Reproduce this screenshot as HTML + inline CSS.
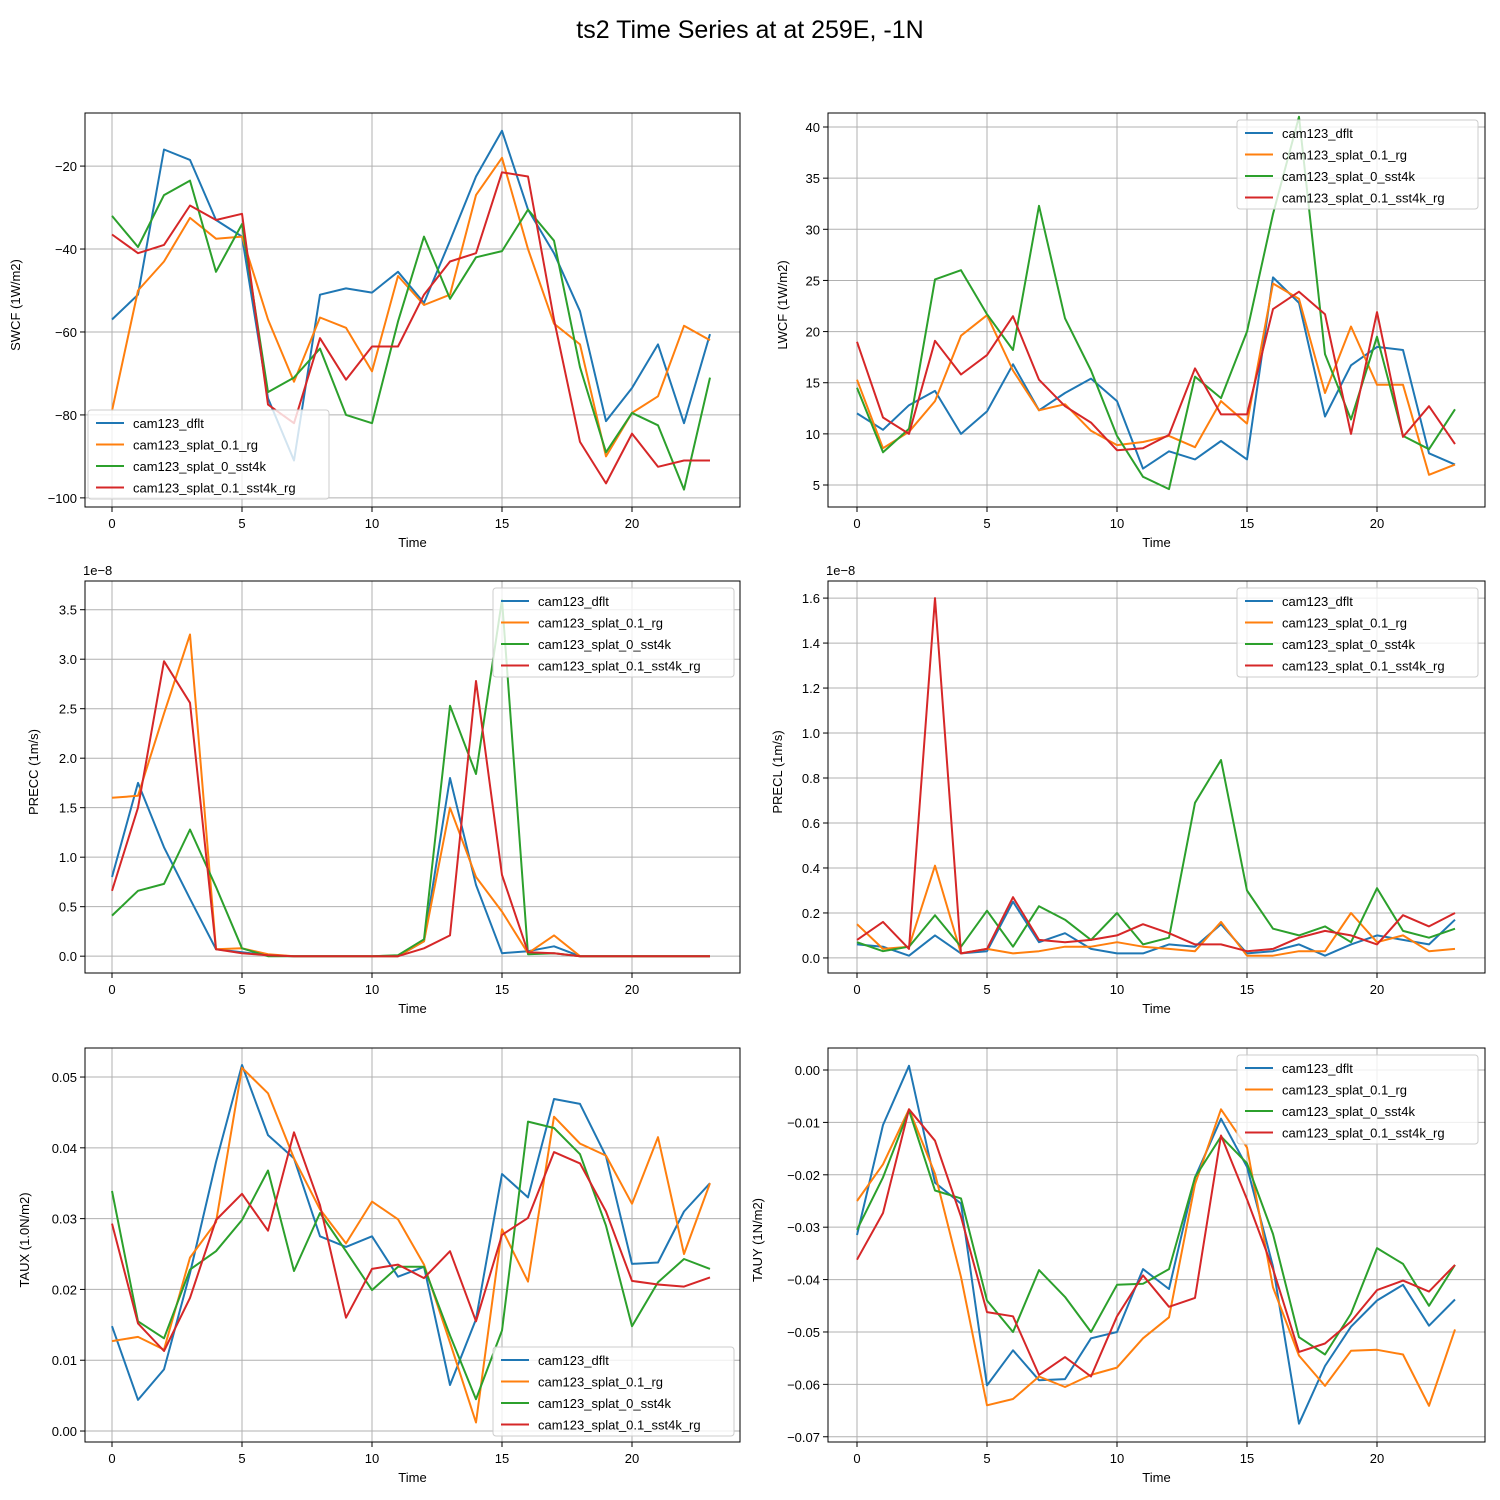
<!DOCTYPE html>
<html><head><meta charset="utf-8"><style>
body{margin:0;background:#fff;}
svg{display:block;font-family:"Liberation Sans","DejaVu Sans",sans-serif;}
</style></head><body>
<svg id="fig" width="1500" height="1500" viewBox="0 0 1500 1500">
<rect width="1500" height="1500" fill="#fff"/>
<text x="750" y="38" text-anchor="middle" font-size="25">ts2 Time Series at at 259E, -1N</text>
</svg>
<script>
const seriesNames = ["cam123_dflt","cam123_splat_0.1_rg","cam123_splat_0_sst4k","cam123_splat_0.1_sst4k_rg"];
const colors = ["#1f77b4","#ff7f0e","#2ca02c","#d62728"];
const xTicks = [0,5,10,15,20];

const swcfDflt = [-57,-51,-16,-18.5,-33,-37,-76,-91,-51,-49.5,-50.5,-45.5,-53,-38,-22.5,-11.5,-30.5,-41,-55,-81.5,-73.5,-63,-82,-60.5];
const swcfRg = [-79,-50,-43,-32.5,-37.5,-37,-57,-72,-56.5,-59,-69.5,-46.5,-53.5,-51,-27,-18,-40,-58,-63,-90,-79.5,-75.5,-58.5,-62];
const swcfSst = [-32,-39.5,-27,-23.5,-45.5,-34,-74.5,-71,-64,-80,-82,-57.5,-37,-52,-42,-40.5,-30.5,-38,-68.5,-89,-79.5,-82.5,-98,-71];
const swcfSstRg = [-36.5,-41,-39,-29.5,-33,-31.5,-77.5,-82,-61.5,-71.5,-63.5,-63.5,-51,-43,-41,-21.5,-22.5,-57,-86.5,-96.5,-84.5,-92.5,-91,-91];
const swcfTicks = [-100,-80,-60,-40,-20];

const lwcfDflt = [12,10.4,12.8,14.2,10,12.2,16.8,12.3,14,15.4,13.2,6.6,8.3,7.5,9.3,7.5,25.3,22.8,11.7,16.7,18.5,18.2,8.1,7];
const lwcfRg = [15.3,8.6,10.2,13.2,19.6,21.6,16.2,12.3,12.9,10.3,8.9,9.2,9.8,8.7,13.2,11,24.7,23.2,14,20.5,14.8,14.8,6,7];
const lwcfSst = [14.5,8.2,10.5,25.1,26,21.7,18.2,32.3,21.3,16.2,9.8,5.8,4.6,15.6,13.5,20,31.5,41,17.8,11.4,19.5,9.8,8.5,12.4];
const lwcfSstRg = [19,11.6,10,19.1,15.8,17.7,21.5,15.3,12.7,11.1,8.4,8.6,9.9,16.4,11.9,11.9,22.2,23.9,21.7,10,21.9,9.7,12.7,9];
const lwcfTicks = [5,10,15,20,25,30,35,40];

const preccDflt = [0.8,1.75,1.1,0.58,0.07,0.04,0.01,0,0,0,0,0,0.15,1.8,0.72,0.03,0.05,0.1,0,0,0,0,0,0];
const preccRg = [1.6,1.62,2.45,3.25,0.07,0.08,0.02,0,0,0,0,0,0.15,1.5,0.8,0.45,0.03,0.21,0,0,0,0,0,0];
const preccSst = [0.41,0.66,0.73,1.28,0.7,0.08,0,0,0,0,0,0.01,0.17,2.53,1.84,3.6,0.02,0.03,0,0,0,0,0,0];
const preccSstRg = [0.66,1.5,2.98,2.56,0.07,0.03,0.01,0,0,0,0,0,0.08,0.21,2.78,0.82,0.04,0.03,0,0,0,0,0,0];
const preccTicks = [0,0.5,1,1.5,2,2.5,3,3.5];

const preclDflt = [0.06,0.05,0.01,0.1,0.02,0.03,0.25,0.07,0.11,0.04,0.02,0.02,0.06,0.05,0.15,0.02,0.03,0.06,0.01,0.06,0.1,0.08,0.06,0.17];
const preclRg = [0.15,0.04,0.05,0.41,0.02,0.04,0.02,0.03,0.05,0.05,0.07,0.05,0.04,0.03,0.16,0.01,0.01,0.03,0.03,0.2,0.07,0.1,0.03,0.04];
const preclSst = [0.07,0.03,0.05,0.19,0.05,0.21,0.05,0.23,0.17,0.08,0.2,0.06,0.09,0.69,0.88,0.3,0.13,0.1,0.14,0.07,0.31,0.12,0.09,0.13];
const preclSstRg = [0.08,0.16,0.04,1.6,0.02,0.04,0.27,0.08,0.07,0.08,0.1,0.15,0.11,0.06,0.06,0.03,0.04,0.09,0.12,0.1,0.06,0.19,0.14,0.2];
const preclTicks = [0,0.2,0.4,0.6,0.8,1,1.2,1.4,1.6];

const tauxDflt = [.0148,.0044,.0087,.0223,.038,.0517,.0418,.0385,.0275,.026,.0275,.0218,.0232,.0065,.0158,.0363,.033,.0469,.0462,.0388,.0236,.0238,.031,.035];
const tauxRg = [.0127,.0133,.0115,.0245,.0295,.0513,.0477,.0385,.0313,.0265,.0324,.0299,.0235,.0125,.0012,.0285,.0211,.0444,.0406,.0389,.0321,.0415,.025,.035];
const tauxSst = [.0339,.0155,.0131,.0228,.0254,.0298,.0368,.0226,.0308,.0254,.0199,.0232,.0232,.0135,.0045,.0142,.0437,.0428,.0391,.029,.0148,.021,.0243,.0229];
const tauxSstRg = [.0293,.0152,.0113,.0188,.0298,.0335,.0283,.0422,.0319,.016,.0229,.0235,.0216,.0254,.0155,.0277,.0301,.0394,.0378,.031,.0212,.0207,.0204,.0217];
const tauxTicks = [0,0.01,0.02,0.03,0.04,0.05];

const tauyDflt = [-.0315,-.0105,.0008,-.0215,-.0255,-.0602,-.0535,-.0592,-.059,-.0512,-.05,-.038,-.0418,-.0205,-.0093,-.0185,-.0375,-.0675,-.0565,-.049,-.044,-.041,-.0488,-.0438];
const tauyRg = [-.025,-.018,-.0075,-.0198,-.0395,-.064,-.0628,-.0585,-.0605,-.0582,-.0568,-.0512,-.0472,-.0218,-.0075,-.0148,-.0415,-.0545,-.0603,-.0536,-.0534,-.0543,-.0641,-.0495];
const tauySst = [-.0305,-.0205,-.0077,-.023,-.0245,-.044,-.05,-.0382,-.0433,-.05,-.041,-.0408,-.038,-.0205,-.0127,-.0178,-.0313,-.051,-.0543,-.0465,-.034,-.037,-.045,-.0372];
const tauySstRg = [-.0362,-.0273,-.0075,-.0135,-.028,-.0462,-.047,-.0582,-.0548,-.0585,-.047,-.0392,-.0452,-.0435,-.0125,-.0247,-.038,-.0538,-.0522,-.048,-.042,-.0402,-.0423,-.0372];
const tauyTicks = [-0.07,-0.06,-0.05,-0.04,-0.03,-0.02,-0.01,0];

const NS = "http://www.w3.org/2000/svg";
const fig = document.getElementById("fig");
function el(tag, attrs, parent){const e=document.createElementNS(NS,tag);for(const k in attrs)e.setAttribute(k,attrs[k]);(parent||fig).appendChild(e);return e;}
function fmt(v,d){const s=Math.abs(v).toFixed(d);return (v<-1e-12?"\u2212":"")+s;}

const panels = [
 {id:"swcf",label:"SWCF (1W/m2)",data:[swcfDflt,swcfRg,swcfSst,swcfSstRg],ticks:swcfTicks,dec:0,x0:85,x1:740,pad:27,y0:113,y1:507,ymin:-102.2,ymax:-7.2,legend:[88,410],lx:20},
 {id:"lwcf",label:"LWCF (1W/m2)",data:[lwcfDflt,lwcfRg,lwcfSst,lwcfSstRg],ticks:lwcfTicks,dec:0,x0:828,x1:1485,pad:29,y0:113,y1:507,ymin:2.85,ymax:41.37,legend:[1237,120],lx:787},
 {id:"precc",label:"PRECC (1m/s)",data:[preccDflt,preccRg,preccSst,preccSstRg],ticks:preccTicks,dec:1,x0:85,x1:740,pad:27,y0:581,y1:973,ymin:-0.17,ymax:3.79,legend:[493,588],lx:38,offset:"1e\u22128"},
 {id:"precl",label:"PRECL (1m/s)",data:[preclDflt,preclRg,preclSst,preclSstRg],ticks:preclTicks,dec:1,x0:828,x1:1485,pad:29,y0:581,y1:973,ymin:-0.067,ymax:1.676,legend:[1237,588],lx:782,offset:"1e\u22128"},
 {id:"taux",label:"TAUX (1.0N/m2)",data:[tauxDflt,tauxRg,tauxSst,tauxSstRg],ticks:tauxTicks,dec:2,x0:85,x1:740,pad:27,y0:1048,y1:1442,ymin:-0.00155,ymax:0.0541,legend:[493,1347],lx:29},
 {id:"tauy",label:"TAUY (1N/m2)",data:[tauyDflt,tauyRg,tauySst,tauySstRg],ticks:tauyTicks,dec:2,x0:828,x1:1485,pad:29,y0:1048,y1:1442,ymin:-0.071,ymax:0.0042,legend:[1237,1055],lx:762}
];

panels.forEach(p=>{
  const g = el("g",{});
  
  
  const xs = v => p.x0 + p.pad + v*26;
  const ys = v => p.y1 - (v-p.ymin)/(p.ymax-p.ymin)*(p.y1-p.y0);
  xTicks.forEach(t=>{
    const x=xs(t);
    el("line",{x1:x,x2:x,y1:p.y0,y2:p.y1,stroke:"#b0b0b0","stroke-width":1},g);
    el("line",{x1:x,x2:x,y1:p.y1,y2:p.y1+5,stroke:"#000","stroke-width":1},g);
    const tx=el("text",{x:x,y:p.y1+21,"text-anchor":"middle","font-size":13},g);
    tx.textContent=t;
    
    
  });
  p.ticks.forEach(t=>{
    const y=ys(t);
    el("line",{x1:p.x0,x2:p.x1,y1:y,y2:y,stroke:"#b0b0b0","stroke-width":1},g);
    el("line",{x1:p.x0-5,x2:p.x0,y1:y,y2:y,stroke:"#000","stroke-width":1},g);
    const tx=el("text",{x:p.x0-8,y:y+5,"text-anchor":"end","font-size":13},g);
    tx.textContent=fmt(t,p.dec);
    
    
  });
  p.data.forEach((arr,i)=>{
    const pts = arr.map((v,k)=>xs(k).toFixed(1)+","+ys(v).toFixed(1)).join(" ");
    const pl = el("polyline",{points:pts,fill:"none",stroke:colors[i],"stroke-width":2,"stroke-linejoin":"round"},g);
    
    
  });
  const fr = el("rect",{x:p.x0,y:p.y0,width:p.x1-p.x0,height:p.y1-p.y0,fill:"none",stroke:"#000","stroke-width":1},g);
  
  
  const xl = el("text",{x:(p.x0+p.x1)/2,y:p.y1+40,"text-anchor":"middle","font-size":13},g);
  xl.textContent="Time";
  
  
  const cy=(p.y0+p.y1)/2;
  const yl = el("text",{x:p.lx+5,y:cy,"text-anchor":"middle","font-size":13,transform:`rotate(-90 ${p.lx} ${cy})`},g);
  yl.textContent=p.label;
  
  
  if(p.offset){
    const ot=el("text",{x:p.x0-2,y:p.y0-6,"font-size":13},g);
    ot.textContent=p.offset;
    
    
  }
  const [lx,ly]=p.legend;
  const lg = el("g",{},g);
  
  
  el("rect",{x:lx,y:ly,width:241,height:89,rx:3,fill:"#fff","fill-opacity":0.8,stroke:"#ccc"},lg);
  seriesNames.forEach((n,i)=>{
    const yy=ly+13+i*21.5;
    el("line",{x1:lx+8,x2:lx+36,y1:yy,y2:yy,stroke:colors[i],"stroke-width":2},lg);
    const t=el("text",{x:lx+45,y:yy+5,"font-size":13},lg);
    t.textContent=n;
    
    
  });
});
</script>
</body></html>
